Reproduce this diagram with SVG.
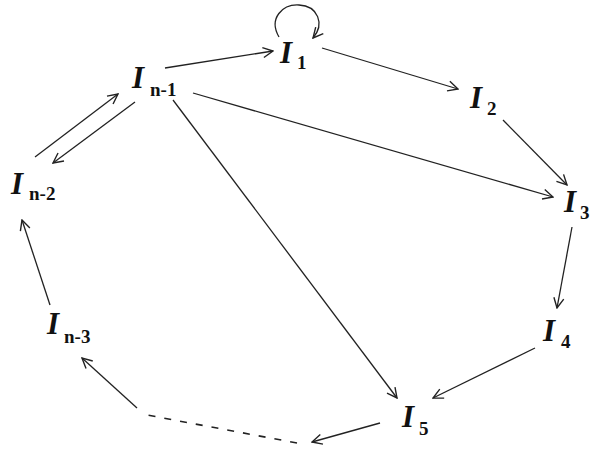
<svg xmlns="http://www.w3.org/2000/svg" width="590" height="454" viewBox="0 0 590 454">
<style>
.bg{fill:#fff}
.ln{fill:none;stroke:#222;stroke-width:1.3}
.dash{fill:none;stroke:#222;stroke-width:1.6;stroke-dasharray:7,9}
.I{font-family:"Liberation Serif",serif;font-weight:bold;font-style:italic;font-size:31px;fill:#111}
.s{font-family:"Liberation Serif",serif;font-weight:bold;font-size:19px;fill:#111}
</style>
<defs>
<marker id="ah" viewBox="0 0 12 12" refX="11" refY="6" markerWidth="12" markerHeight="12" markerUnits="userSpaceOnUse" orient="auto">
<path d="M1,1 L11,6 L1,11" fill="none" stroke="#222" stroke-width="1.4"/>
</marker>
</defs>
<rect class="bg" width="590" height="454"/>
<g id="connectors">
<path class="ln" d="M165,68 L273,51" marker-end="url(#ah)"/>
<path class="ln" d="M279,37 C268,18 283,4 299,5 C318,6 325,24 313,38" marker-end="url(#ah)"/>
<path class="ln" d="M322,48 L458,89" marker-end="url(#ah)"/>
<path class="ln" d="M503,120 L567,185" marker-end="url(#ah)"/>
<path class="ln" d="M193,93 L553,197" marker-end="url(#ah)"/>
<path class="ln" d="M572,227 L557,308" marker-end="url(#ah)"/>
<path class="ln" d="M535,348 L433,398" marker-end="url(#ah)"/>
<path class="ln" d="M173,100 L397,398" marker-end="url(#ah)"/>
<path class="ln" d="M380,423 L312,442" marker-end="url(#ah)"/>
<path class="dash" d="M297,443 L147,415"/>
<path class="ln" d="M137,408 L82,358" marker-end="url(#ah)"/>
<path class="ln" d="M50,305 L22,220" marker-end="url(#ah)"/>
<path class="ln" d="M35,157 L118,94" marker-end="url(#ah)"/>
<path class="ln" d="M135,102 L53,163" marker-end="url(#ah)"/>
</g>
<g id="n_in1"><text class="I" x="132" y="88">I</text><text class="s" x="150" y="96">n-1</text></g>
<g id="n_i1"><text class="I" x="280" y="63">I</text><text class="s" x="297" y="69">1</text></g>
<g id="n_i2"><text class="I" x="470" y="108">I</text><text class="s" x="487" y="115">2</text></g>
<g id="n_i3"><text class="I" x="564" y="212">I</text><text class="s" x="580" y="219">3</text></g>
<g id="n_i4"><text class="I" x="543" y="341">I</text><text class="s" x="561" y="348">4</text></g>
<g id="n_i5"><text class="I" x="402" y="427">I</text><text class="s" x="419" y="435">5</text></g>
<g id="n_in3"><text class="I" x="47" y="334">I</text><text class="s" x="64" y="343">n-3</text></g>
<g id="n_in2"><text class="I" x="11" y="194">I</text><text class="s" x="29" y="200">n-2</text></g>
</svg>
